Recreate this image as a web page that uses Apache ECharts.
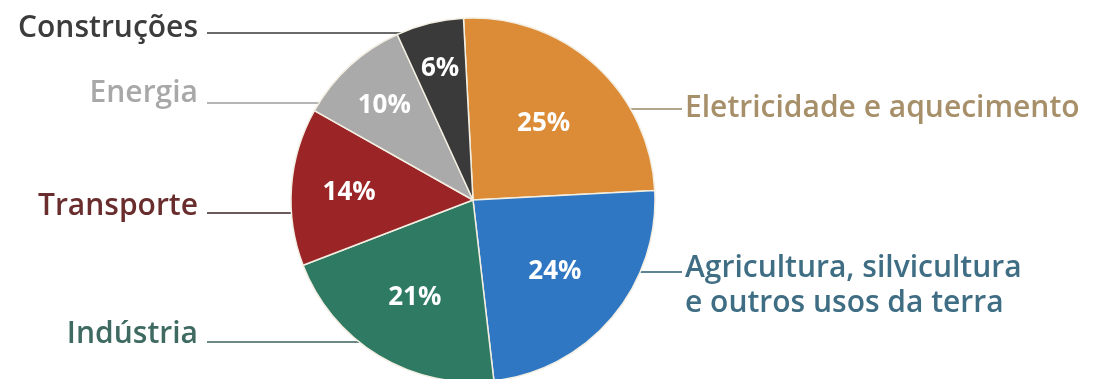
<!DOCTYPE html>
<html>
<head>
<meta charset="utf-8">
<style>
  html, body { margin: 0; padding: 0; background: #ffffff; }
  #chart { width: 1102px; height: 379px; }
</style>
<script src="https://cdn.jsdelivr.net/npm/echarts@6/dist/echarts.min.js"></script>
</head>
<body>
<div id="chart"></div>
<script>
// ---- data ----
const categories = [
  'Eletricidade e aquecimento',
  'Agricultura, silvicultura\ne outros usos da terra',
  'Indústria',
  'Transporte',
  'Energia',
  'Construções'
];
const shares = [25, 24, 21, 14, 10, 6];

// ---- styles ----
const sliceColors = ['#dc8c36', '#2f77c3', '#2e7a63', '#9a2426', '#aaaaaa', '#3a3a3a'];
const labelColors = ['#a68f69', '#3f6e84', '#3e6a61', '#6a2d2d', '#a8a8a8', '#3c3c3c'];
const lineColors  = ['#b3a58d', '#5f8396', '#6c8a84', '#6a5a5a', '#b5b5b5', '#6a6a6a'];

// ---- layout ----
const CX = 473, CY = 200, R = 182;
const labelBaseline = [117, 277, 343, 215, 102, 37];
const leaderY = [109, 272, 342, 213, 103, 33];
const LEFT_TEXT_X = 198, RIGHT_TEXT_X = 685;

const chart = echarts.init(document.getElementById('chart'), null, { renderer: 'canvas' });

const outerData = categories.map((n, i) => ({
  name: n,
  value: shares[i],
  itemStyle: { color: sliceColors[i] },
  label: { color: labelColors[i] },
  labelLine: { lineStyle: { color: lineColors[i] } }
}));
const innerData = categories.map((n, i) => ({ name: n, value: shares[i] }));

function circleEdgeX(y, side) {
  const dy = y - CY;
  const dx = Math.sqrt(Math.max(0, R * R - dy * dy));
  return side < 0 ? CX - dx + 2 : CX + dx - 2;
}

chart.setOption({
  animation: false,
  backgroundColor: '#ffffff',
  series: [
    {
      type: 'pie',
      center: [CX, CY],
      radius: [0, R],
      startAngle: 93,
      clockwise: true,
      avoidLabelOverlap: false,
      silent: true,
      itemStyle: { borderColor: '#f3eee2', borderWidth: 1.5 },
      label: {
        show: true,
        position: 'outside',
        formatter: '{b}',
        fontFamily: 'Open Sans',
        fontWeight: 600,
        fontSize: 30,
        lineHeight: 35
      },
      labelLine: { show: true, length: 10, length2: 10, lineStyle: { width: 2 } },
      labelLayout: function (p) {
        const i = p.dataIndex;
        const side = (i <= 1) ? 1 : -1;
        const ly = leaderY[i];
        const edge = circleEdgeX(ly, side);
        const textX = side > 0 ? RIGHT_TEXT_X : LEFT_TEXT_X;
        const lineEnd = side > 0 ? textX - 3 : textX + 9;
        return {
          x: textX,
          y: labelBaseline[i] - 26,
          align: side > 0 ? 'left' : 'right',
          verticalAlign: 'top',
          labelLinePoints: [[edge, ly], [edge, ly], [lineEnd, ly]]
        };
      },
      data: outerData
    },
    {
      type: 'pie',
      center: [CX, CY],
      radius: [0, R],
      startAngle: 93,
      clockwise: true,
      avoidLabelOverlap: false,
      silent: true,
      z: 3,
      itemStyle: { color: 'rgba(0,0,0,0)', borderWidth: 0 },
      label: {
        show: true,
        position: 'inside',
        formatter: '{c}%',
        color: '#ffffff',
        fontFamily: 'Open Sans',
        fontWeight: 700,
        fontSize: 26
      },
      labelLine: { show: false },
      labelLayout: function (p) {
        const r = p.labelRect;
        const mx = r.x + r.width / 2 - CX;
        const my = r.y + r.height / 2 - CY;
        const len = Math.sqrt(mx * mx + my * my) || 1;
        const d = 148 - 1.7 * shares[p.dataIndex];
        return {
          x: CX + mx / len * d,
          y: CY + my / len * d + 2,
          align: 'center',
          verticalAlign: 'middle'
        };
      },
      data: innerData
    }
  ]
});
</script>
</body>
</html>
